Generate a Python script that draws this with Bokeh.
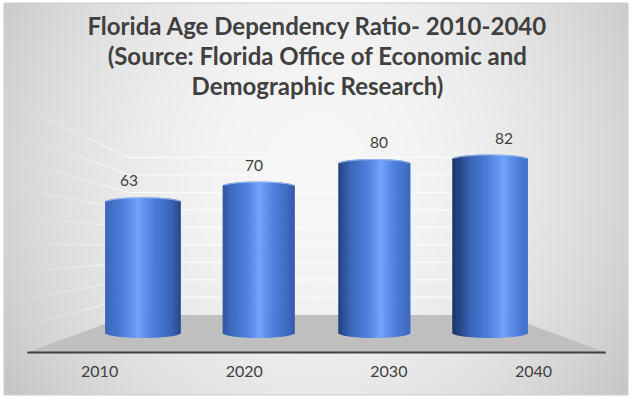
import numpy as np
from bokeh.plotting import figure
from bokeh.models import ColumnDataSource, Range1d, Label
from bokeh.core.properties import value
from bokeh.embed import file_html
from bokeh.resources import INLINE

# ---- data ----
years = ["2010", "2020", "2030", "2040"]
ratios = [63, 70, 80, 82]
grid_values = [10, 20, 30, 40, 50, 60, 70, 80, 90]
title_lines = [
    "Florida Age Dependency Ratio- 2010-2040",
    "(Source: Florida Office of Economic and",
    "Demographic Research)",
]

# ---- layout / style ----
W, H = 634, 399
X0, X1 = -1.2316, 4.248
Y0, Y1 = -26.67, 150.67
TXT = "#404040"
FONT = "Lato"

p = figure(width=W, height=H, x_range=Range1d(X0, X1), y_range=Range1d(Y0, Y1),
           output_backend="svg", toolbar_location=None, min_border=0)
p.axis.visible = False
p.grid.visible = False
p.outline_line_color = None
p.border_fill_color = "white"
p.background_fill_color = "white"

# chart-area background: soft radial gradient with thin border
px = np.arange(W)[None, :] + 0.5
py = (H - 1 - np.arange(H))[:, None] + 0.5   # screen y from top, row 0 = bottom
dx = (px - 317) / 317
dy = (py - 170) / 230
val = np.clip(247 - 36 * dx ** 2 - 16 * dy ** 2, 190, 250)
inside = (px >= 3) & (px <= 628) & (py >= 2) & (py <= 395)
edge = inside & ((px < 4) | (px > 627) | (py < 3) | (py > 394))
g = np.where(inside, val, 255.0)
g = np.where(edge, 205.0, g).astype(np.uint8)
img = np.empty((H, W), dtype=np.uint32)
view = img.view(dtype=np.uint8).reshape((H, W, 4))
view[..., 0] = g
view[..., 1] = g
view[..., 2] = g
view[..., 3] = 255
p.image_rgba(image=[img], x=X0, y=Y0, dw=X1 - X0, dh=Y1 - Y0)

n = len(years)
center = (n - 1) / 2
front_half = n / 2 * 1.25
back_half = 1.62
floor_front = -5.78
floor_back = 10.9
back_scale = 1.75 / 2.25
front_scale = 2.7 / 2.25

# back wall gridlines
bx0 = [center - back_half] * len(grid_values)
bx1 = [center + back_half] * len(grid_values)
by = [floor_back + gv * back_scale for gv in grid_values]
p.segment(x0=bx0, y0=by, x1=bx1, y1=by, line_color="white", line_alpha=0.75, line_width=1.2)

# left wall gridlines (fading toward the front)
segs = 10
sx0, sy0, sx1, sy1, sa = [], [], [], [], []
for gv in grid_values:
    xb, yb = center - back_half, floor_back + gv * back_scale
    xf, yf = center - front_half, floor_front + gv * front_scale
    for s in range(segs):
        t0, t1 = s / segs, (s + 1) / segs
        sx0.append(xb + (xf - xb) * t0)
        sy0.append(yb + (yf - yb) * t0)
        sx1.append(xb + (xf - xb) * t1)
        sy1.append(yb + (yf - yb) * t1)
        sa.append(0.6 - 0.5 * t0)
p.segment(x0=sx0, y0=sy0, x1=sx1, y1=sy1, line_color="white", line_alpha=sa, line_width=1.2)

# floor
p.patch(x=[center - front_half, center + front_half, center + back_half, center - back_half],
        y=[floor_front, floor_front, floor_back, floor_back],
        fill_color="#bfbfbf", line_color=None)
p.segment(x0=[center - front_half], y0=[floor_front], x1=[center + front_half], y1=[floor_front],
          line_color=TXT, line_width=2)

# cylinders
anchors_d = [0.0, 0.08, 0.2, 0.44, 0.56, 0.72]
anchors_c = np.array([[116, 164, 250], [98, 147, 238], [78, 127, 220],
                      [58, 100, 184], [42, 74, 140], [26, 48, 96]], dtype=float)

def shade(d):
    c = [np.interp(d, anchors_d, anchors_c[:, k]) for k in range(3)]
    return "#%02x%02x%02x" % tuple(int(round(v)) for v in c)

N = 44
cap_top = 2.0
bot_edge, bot_mid = 3.1, 0.9
rows = dict(x=[], w=[], top=[], bottom=[], color=[])
rims = []
for i, v in enumerate(ratios):
    bw = 0.6 + 0.03 * abs(i - center)
    hl = 0.44 + 0.08 * i
    rx, ry = [], []
    for j in range(N):
        u = (j + 0.5) / N
        w = 2 * u - 1
        s = np.sqrt(max(0.0, 1 - w * w))
        xc = i + (u - 0.5) * bw
        rows["x"].append(xc)
        rows["w"].append(bw / N)
        rows["top"].append(v - cap_top * (1 - s))
        rows["bottom"].append(bot_edge - (bot_edge - bot_mid) * s)
        rows["color"].append(shade(abs(u - hl)))
        rx.append(xc)
        ry.append(v - cap_top * (1 - s))
    rims.append((rx, ry))
src = ColumnDataSource(rows)
p.vbar(x="x", width="w", top="top", bottom="bottom", fill_color="color",
       line_color="color", line_width=1.0, source=src)
for rx, ry in rims:
    p.line(rx, ry, line_color="#a8c4f2", line_width=1.2, line_alpha=0.7)

# value labels
p.text(x=[center + (i - center) * 1.08 for i in range(n)], y=ratios, text=[str(r) for r in ratios],
       y_offset=-17, text_align="center", text_baseline="middle",
       text_font=value(FONT), text_font_size="15.5px", text_color=TXT)

# category labels
p.text(x=[center + (i - center) * 1.25 for i in range(n)], y=[floor_front] * n, text=years,
       y_offset=19, text_align="center", text_baseline="middle",
       text_font=value(FONT), text_font_size="16px", text_color=TXT)

# title
for k, line in enumerate(title_lines):
    p.add_layout(Label(x=317, y=H - 25 - 30 * k, x_units="screen", y_units="screen", text=line,
                       text_align="center", text_baseline="middle", text_font=FONT,
                       text_font_size="24px", text_font_style="bold", text_color=TXT))

open("out.html", "w").write(file_html(p, INLINE))
